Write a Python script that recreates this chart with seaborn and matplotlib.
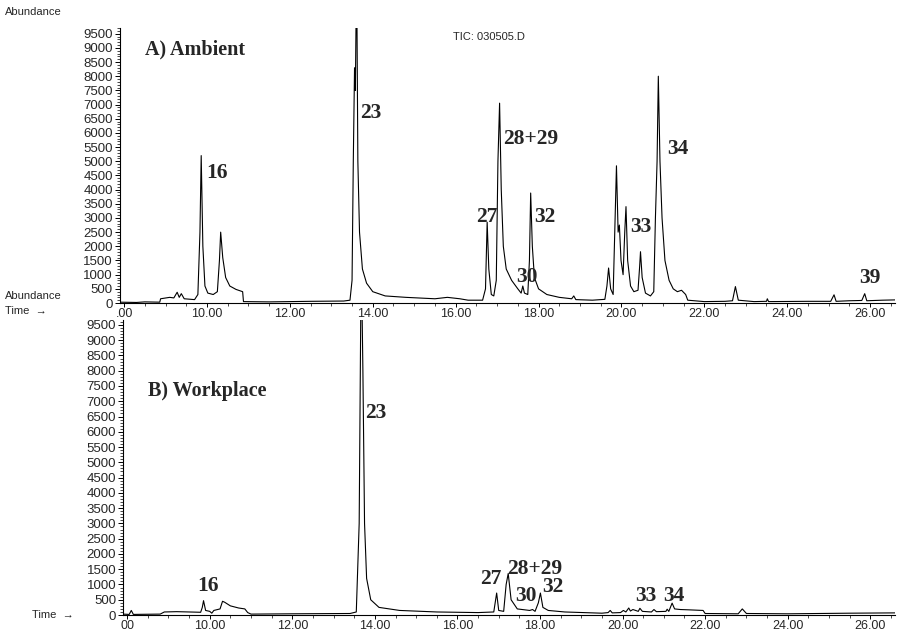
import numpy as np
import pandas as pd
import matplotlib
matplotlib.use("Agg")
import matplotlib.pyplot as plt
import seaborn as sns
from matplotlib.ticker import MultipleLocator, FixedLocator, FixedFormatter

# --- DATA ---
# A) Ambient trace: retention time (min) / abundance
amb_time = [7.90, 8.30, 8.50, 8.86, 8.88, 9.10, 9.20, 9.28, 9.33, 9.38, 9.45, 9.70,
            9.78, 9.83, 9.86, 9.90, 9.95, 10.02, 10.15, 10.25, 10.30, 10.33, 10.38,
            10.45, 10.55, 10.70, 10.80, 10.86, 10.88, 11.50, 12.50, 13.30, 13.45,
            13.50, 13.53, 13.56, 13.58, 13.61, 13.64, 13.68, 13.75, 13.85, 14.00,
            14.30, 14.80, 15.50, 15.80, 16.10, 16.30, 16.65, 16.72, 16.76, 16.80,
            16.86, 16.92, 16.98, 17.02, 17.06, 17.10, 17.15, 17.22, 17.35, 17.50,
            17.58, 17.62, 17.66, 17.74, 17.78, 17.81, 17.85, 17.90, 18.00, 18.20,
            18.50, 18.80, 18.85, 18.90, 19.30, 19.60, 19.65, 19.69, 19.74, 19.80,
            19.84, 19.88, 19.92, 19.95, 19.99, 20.04, 20.08, 20.11, 20.15, 20.22,
            20.30, 20.40, 20.44, 20.46, 20.50, 20.58, 20.70, 20.78, 20.82, 20.86,
            20.89, 20.93, 20.98, 21.05, 21.15, 21.25, 21.35, 21.45, 21.55, 21.60,
            22.00, 22.50, 22.68, 22.75, 22.82, 23.20, 23.50, 23.52, 23.55, 24.50,
            25.05, 25.13, 25.18, 25.50, 25.80, 25.87, 25.92, 26.30, 26.60]
amb_abund = [30, 20, 40, 30, 150, 200, 180, 380, 200, 330, 150, 120,
             300, 2500, 5200, 2000, 600, 350, 300, 400, 1500, 2500, 1600,
             900, 600, 480, 430, 400, 50, 40, 60, 70, 100,
             800, 5000, 8300, 7500, 12000, 5000, 2500, 1200, 700, 400,
             250, 200, 150, 200, 150, 100, 100, 500, 2850, 1200,
             300, 250, 800, 5000, 7050, 4000, 2000, 1200, 800, 500,
             350, 600, 350, 300, 1500, 3880, 2000, 900, 500, 300,
             200, 150, 250, 120, 100, 130, 600, 1235, 500, 300,
             2500, 4840, 2500, 2750, 1500, 1000, 2500, 3400, 1500, 600,
             400, 450, 1300, 1810, 900, 350, 250, 400, 3000, 5000,
             8000, 5000, 3000, 1500, 800, 500, 400, 450, 300, 100,
             50, 60, 80, 580, 100, 50, 60, 150, 50, 60,
             60, 290, 60, 80, 90, 330, 80, 100, 110]

# B) Workplace trace
work_time = [7.90, 8.05, 8.10, 8.15, 8.80, 8.90, 9.20, 9.50, 9.78, 9.82, 9.85,
             9.90, 10.00, 10.05, 10.10, 10.25, 10.31, 10.36, 10.50, 10.70, 10.85,
             10.92, 11.00, 12.00, 13.40, 13.55, 13.62, 13.67, 13.71, 13.75, 13.80,
             13.90, 14.10, 14.60, 15.50, 16.50, 16.88, 16.95, 17.00, 17.12, 17.18,
             17.23, 17.30, 17.45, 17.75, 17.82, 17.88, 17.96, 18.01, 18.07, 18.20,
             18.60, 19.50, 19.65, 19.70, 19.75, 19.95, 20.02, 20.08, 20.15, 20.19,
             20.25, 20.38, 20.42, 20.48, 20.70, 20.76, 20.82, 21.05, 21.08, 21.12,
             21.20, 21.26, 21.40, 21.60, 21.95, 22.00, 22.80, 22.90, 23.00, 24.00,
             25.50, 26.60]
work_abund = [30, 20, 150, 20, 30, 100, 110, 100, 90, 250, 470,
              150, 120, 60, 150, 200, 450, 420, 300, 230, 200,
              80, 30, 40, 50, 100, 3000, 12000, 8000, 3000, 1200,
              500, 250, 150, 100, 80, 100, 720, 150, 120, 1000,
              1360, 500, 200, 150, 180, 120, 400, 720, 250, 150,
              100, 60, 80, 150, 70, 80, 150, 100, 230, 130,
              180, 120, 220, 120, 100, 180, 110, 120, 190, 120,
              390, 200, 180, 170, 150, 50, 40, 200, 50, 40,
              60, 70]

# peak labels: text, time, abundance
amb_labels = ["16", "23", "27", "28+29", "30", "32", "33", "34", "39"]
amb_lab_t = [10.23, 13.94, 16.75, 17.82, 17.72, 18.14, 20.47, 21.35, 25.99]
amb_lab_y = [4600, 6710, 3050, 5790, 930, 3050, 2690, 5440, 890]

work_labels = ["16", "23", "27", "28+29", "30", "32", "33", "34"]
work_lab_t = [9.95, 14.03, 16.82, 17.86, 17.67, 18.32, 20.56, 21.25]
work_lab_y = [960, 6630, 1180, 1500, 620, 915, 620, 620]

ytick_vals = list(range(0, 10000, 500))
ytick_text = [str(v) for v in ytick_vals]
xtick_vals = [8, 10, 12, 14, 16, 18, 20, 22, 24, 26]
xtick_top = [".00", "10.00", "12.00", "14.00", "16.00", "18.00", "20.00", "22.00", "24.00", "26.00"]
xtick_bot = ["00", "10.00", "12.00", "14.00", "16.00", "18.00", "20.00", "22.00", "24.00", "26.00"]

sns.set_style("ticks")
plt.rcParams['font.family'] = ['Liberation Sans', 'DejaVu Sans']

fig = plt.figure(figsize=(9, 6.37), dpi=100)
ax_a = fig.add_axes([0.1333, 0.5243, 0.8611, 0.4317])
ax_b = fig.add_axes([0.1367, 0.0345, 0.8578, 0.4631])

df_a = pd.DataFrame({"time": amb_time, "abundance": amb_abund})
df_b = pd.DataFrame({"time": work_time, "abundance": work_abund})

panels = [
    (ax_a, df_a, 9700, xtick_top, amb_labels, amb_lab_t, amb_lab_y, "A) Ambient", 8930),
    (ax_b, df_b, 9660, xtick_bot, work_labels, work_lab_t, work_lab_y, "B) Workplace", 7350),
]

for ax, df, ymax, xlabels, labs, lt, ly, title, title_y in panels:
    sns.lineplot(data=df, x="time", y="abundance", ax=ax, color="black",
                 linewidth=0.8, estimator=None, sort=False)
    ax.set_xlim(7.9, 26.6)
    ax.set_ylim(0, ymax)
    ax.set_xlabel("")
    ax.set_ylabel("")
    sns.despine(ax=ax)
    for s in ["left", "bottom"]:
        ax.spines[s].set_linewidth(0.8)
        ax.spines[s].set_color("black")
    ax.yaxis.set_major_locator(FixedLocator(ytick_vals))
    ax.yaxis.set_major_formatter(FixedFormatter(ytick_text))
    ax.yaxis.set_minor_locator(MultipleLocator(100))
    ax.xaxis.set_major_locator(FixedLocator(xtick_vals))
    ax.xaxis.set_major_formatter(FixedFormatter(xlabels))
    ax.xaxis.set_minor_locator(MultipleLocator(0.5))
    ax.tick_params(axis="both", which="major", length=3.5, width=0.7, color="black",
                   labelsize=9.5, pad=1.5)
    ax.tick_params(axis="both", which="minor", length=2, width=0.5, color="black")
    ax.tick_params(axis="x", which="major", length=3, pad=0.5, labelsize=9)
    for t, y, s in zip(lt, ly, labs):
        ax.text(t, y, s, ha="center", va="center", fontsize=15.5,
                fontweight="bold", family=["Liberation Serif", "DejaVu Serif"])
    ax.text(8.5, title_y, title, ha="left", va="center", fontsize=14.5,
            fontweight="bold", family=["Liberation Serif", "DejaVu Serif"])

fig.text(0.006, 0.981, "Abundance", fontsize=8, va="center", ha="left")
fig.text(0.503, 0.942, "TIC: 030505.D", fontsize=8, va="center", ha="left")
fig.text(0.006, 0.535, "Abundance", fontsize=8, va="center", ha="left")
fig.text(0.006, 0.512, "Time  \u2192", fontsize=8, va="center", ha="left")
fig.text(0.035, 0.034, "Time  \u2192", fontsize=8, va="center", ha="left")

fig.savefig("out.png", dpi=100)
